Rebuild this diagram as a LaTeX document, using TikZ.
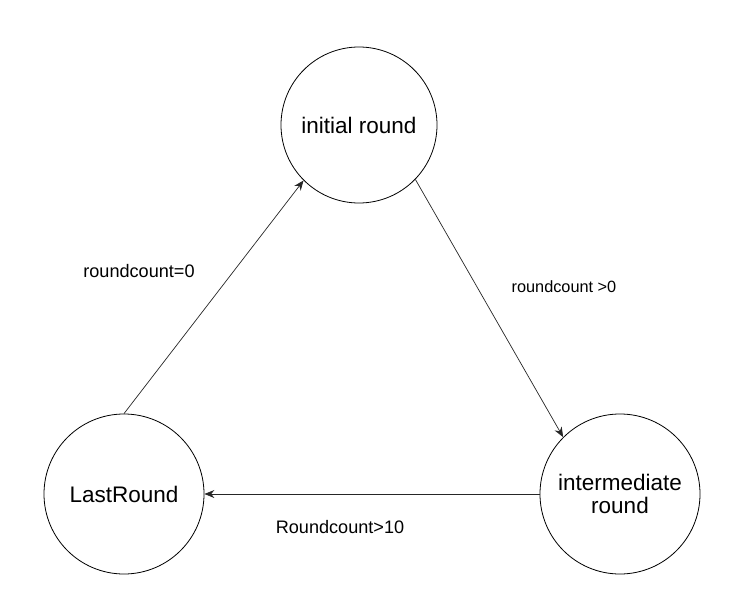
\documentclass[tikz,border=0pt]{standalone}
\usepackage{fontspec}
\setmainfont{Liberation Sans}
\usetikzlibrary{arrows.meta}
\begin{document}
\begin{tikzpicture}[x=1pt,y=-1pt,
  state/.style={draw=black, line width=0.8pt, circle, minimum size=158pt, inner sep=0pt, align=center, font=\fontsize{22.5}{25}\selectfont},
  edgelbl/.style={font=\fontsize{18.1}{21}\selectfont, inner sep=0pt},
  conn/.style={draw=black!85, line width=0.7pt, -{Stealth[length=10pt,width=8pt]}}]
\useasboundingbox (0,0) rectangle (756,602);
\node[state, minimum size=156pt] (init) at (359,125) {initial round};
\node[state, minimum size=160pt] (last) at (124,494) {LastRound};
\node[state, minimum size=160pt] (inter) at (620,494) {intermediate\\[-2pt]round};
\draw[conn] (last.north) -- (init.225);
\draw[conn] (init.-44) -- (inter.135);
\draw[conn] (inter.west) -- (last.east);
\node[edgelbl] (l1) at (139,271) {roundcount=0};
\node[edgelbl, font=\fontsize{16.3}{19}\selectfont] (l2) at (564,287) {roundcount >0};
\node[edgelbl] (l3) at (340,527) {Roundcount>10};
\end{tikzpicture}
\end{document}
